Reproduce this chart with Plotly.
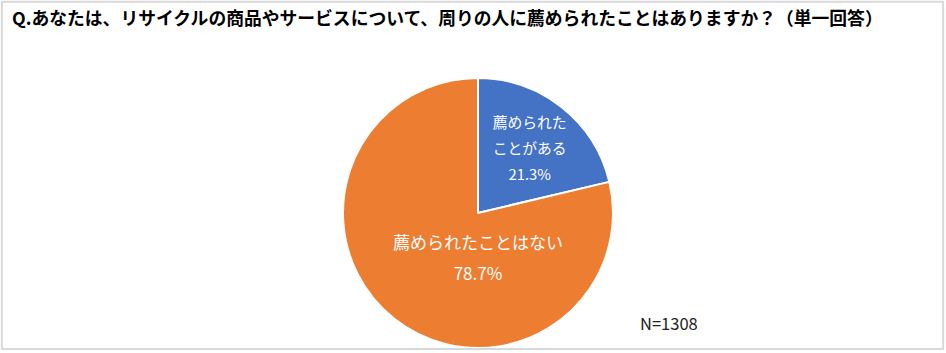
import plotly.graph_objects as go

labels = ["薦められた<br>ことがある", "薦められたことはない"]
values = [21.3, 78.7]
colors = ["#4472C4", "#ED7D31"]
label_sizes = [15, 17]
line_sizes = [20, 24]
title_text = "Q.あなたは、リサイクルの商品やサービスについて、周りの人に薦められたことはありますか？（単一回答）"
n_text = "N=1308"

W, H = 946, 353
cx, cy, r = 478, 213, 135

templates = []
for lab, s in zip(labels, label_sizes):
    parts = (lab + "<br>%{value:.1f}%").split("<br>")
    templates.append("<br>".join(f"<span style='font-size:{s}px'>{p}</span>" for p in parts))

fig = go.Figure(go.Pie(
    labels=labels,
    values=values,
    sort=False,
    direction="clockwise",
    rotation=0,
    marker=dict(colors=colors, line=dict(color="white", width=2)),
    texttemplate=templates,
    textposition="inside",
    insidetextorientation="horizontal",
    textfont=dict(family="Noto Sans CJK JP", size=line_sizes, color="white"),
    hoverinfo="skip",
    showlegend=False,
    domain=dict(x=[(cx - r) / W, (cx + r) / W], y=[(H - cy - r) / H, (H - cy + r) / H]),
))

fig.update_layout(
    width=W, height=H,
    margin=dict(l=0, r=0, t=0, b=0),
    paper_bgcolor="white",
    plot_bgcolor="white",
    font=dict(family="Noto Sans CJK JP"),
    shapes=[dict(type="rect", xref="paper", yref="paper", x0=0.002, x1=0.997, y0=0.011, y1=0.995,
                 line=dict(color="#D9D9D9", width=2))],
    annotations=[
        dict(text="<b>" + title_text + "</b>", x=10 / W, y=1 - 17 / H, xref="paper", yref="paper",
             xanchor="left", yanchor="middle", showarrow=False,
             font=dict(family="Noto Sans CJK JP", size=17.8, color="black")),
        dict(text=n_text, x=638 / W, y=1 - 323 / H, xref="paper", yref="paper",
             xanchor="left", yanchor="middle", showarrow=False,
             font=dict(family="Noto Sans CJK JP", size=16.5, color="#222")),
    ],
)

fig.write_html("out.html")
